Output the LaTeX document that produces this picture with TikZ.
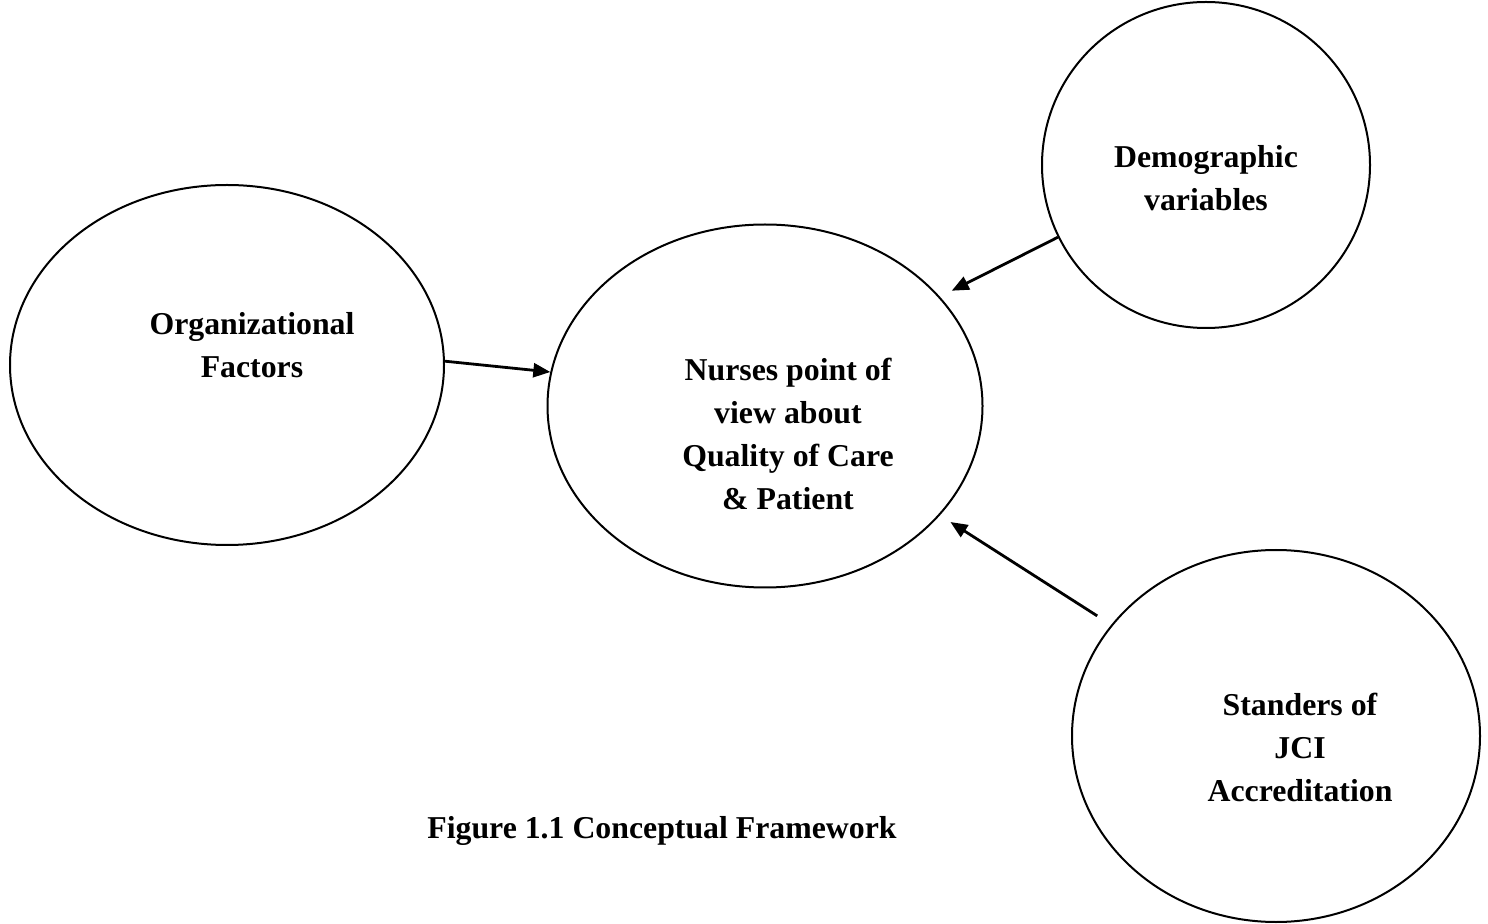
\documentclass[tikz,border=0pt]{standalone}
\usepackage{fontspec}
\setmainfont{Liberation Serif}
\usetikzlibrary{shapes.geometric,arrows.meta}

\tikzset{
  bubble/.style={draw,ellipse,line width=1pt,inner sep=0pt},
  lbl/.style={align=center,font=\fontsize{15.9}{21.5}\selectfont\bfseries},
  link/.style={line width=1.4pt,-{Triangle[length=8.5pt,width=7pt]}},
}

\begin{document}
\begin{tikzpicture}[x=0.5pt,y=0.5pt,yscale=-1]
\useasboundingbox (0,0) rectangle (1488,924);

%Bubbles
\node [bubble,minimum width=217pt,minimum height=180pt] (org) at (227,365) {};
\node [bubble,minimum width=217.5pt,minimum height=181.5pt] (nurse) at (765,406) {};
\node [bubble,minimum width=164pt,minimum height=163pt] (demo) at (1206,165) {};
\node [bubble,minimum width=204pt,minimum height=186pt] (jci) at (1276,736) {};

%Texts
\node [lbl] (orgtxt) at (252,345) {Organizational\\Factors};
\node [lbl] (nursetxt) at (788,434) {Nurses point of\\view about\\Quality of Care\\\& Patient};
\node [lbl] (demotxt) at (1206,178) {Demographic\\variables};
\node [lbl] (jcitxt) at (1300,747) {Standers of\\JCI\\Accreditation};

%Arrows
\draw [link] (org.1) -- (nurse.171);
\draw [link,shorten >=6.6pt] (demo.206) -- (nurse.32.5);
\draw [link,shorten <=8.3pt,shorten >=6.2pt] (jci.146.6) -- (nurse.-32);

%Caption
\node [lbl] (caption) at (662,831) {Figure 1.1 Conceptual Framework};

\end{tikzpicture}
\end{document}
